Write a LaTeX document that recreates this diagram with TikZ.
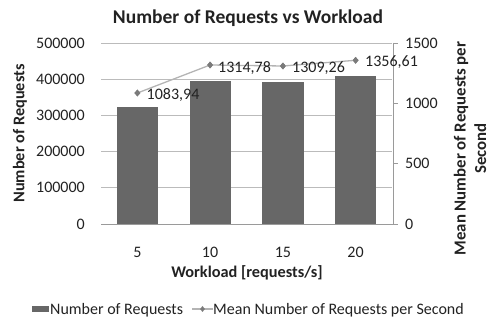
\documentclass[tikz,border=0pt]{standalone}
\usepackage{fontspec}
\setmainfont{Carlito}
\usetikzlibrary{shapes.geometric}
\definecolor{barc}{HTML}{676767}
\definecolor{gridc}{HTML}{BBBBBB}
\definecolor{axc}{HTML}{9A9A9A}
\definecolor{linec}{HTML}{B4B4B4}
\definecolor{mkc}{HTML}{7A7A7A}
\definecolor{txc}{HTML}{222222}
\begin{document}
\begin{tikzpicture}[x=1pt,y=-1pt,
  lbl/.style={font=\fontsize{16}{19}\selectfont, text=txc, inner sep=0pt},
  ttl/.style={font=\fontsize{16.3}{19}\selectfont\bfseries, text=txc, inner sep=0pt},
  grid line/.style={draw=gridc, line width=0.9pt},
  bar/.style={fill=barc},
  dmk/.style={diamond, fill=mkc, inner sep=0pt, minimum width=6pt, minimum height=7pt},
  dl/.style={lbl, anchor=west}
]
\useasboundingbox (0,0) rectangle (489,323);
% gridlines
\foreach \y in {43,79.2,115.4,151.6,187.8}
  \draw[grid line] (101,\y) -- (392,\y);
% bars
\fill[bar] (116.5,106.7) rectangle (157.7,224);
\fill[bar] (189.5,81) rectangle (230.7,224);
\fill[bar] (262.3,82) rectangle (303.5,224);
\fill[bar] (335,76.3) rectangle (376.2,224);
% axes
\draw[axc, line width=0.9pt] (101,224) -- (393,224);
\draw[axc, line width=0.9pt] (393,43) -- (393,224);
\foreach \y in {43,103.3,163.7,224}
  \draw[axc, line width=0.9pt] (393,\y) -- (398,\y);
% left tick labels
\foreach \v/\y in {500000/43,400000/79.2,300000/115.4,200000/151.6,100000/187.8,0/224}
  \node[lbl, anchor=east] at (85,\y) {\v};
% right tick labels
\foreach \v/\y in {1500/43,1000/103.3,500/163.7,0/224}
  \node[lbl, anchor=west] at (405,\y) {\v};
% category labels
\foreach \v/\x in {5/137.4,10/210.1,15/282.9,20/355.6}
  \node[lbl] at (\x,252) {\v};
% line series
\node[dmk] (p1) at (137.4,93) {};
\node[dmk] (p2) at (210.1,65) {};
\node[dmk] (p3) at (282.9,66) {};
\node[dmk] (p4) at (355.6,60.3) {};
\draw[linec, line width=1.3pt] (p1.center) -- (p2.center) -- (p3.center) -- (p4.center);
\foreach \p in {p1,p2,p3,p4} \node[dmk] at (\p) {};
\node[dl] (l1) at (146.5,95.5) {1083,94};
\node[dl] (l2) at (218,68) {1314,78};
\node[dl] (l3) at (292,68) {1309,26};
\node[dl] (l4) at (365,62) {1356,61};
% titles
\node[ttl, font=\fontsize{19.5}{22}\selectfont\bfseries] (title) at (248,18) {Number of Requests vs Workload};
\node[ttl, rotate=90] (ylab) at (20,133.5) {Number of Requests};
\node[ttl, rotate=90, align=center, font=\fontsize{16.8}{20.5}\selectfont\bfseries] (y2lab) at (470,148.5) {Mean Number of Requests per\\Second};
\node[ttl] (xlab) at (247,273) {Workload [requests/s]};
% legend
\fill[bar] (32,305.7) rectangle (49,311.7);
\node[lbl, anchor=west] (leg1) at (50,310) {Number of Requests};
\coordinate (s1) at (192,309);
\coordinate (s2) at (213,309);
\draw[linec, line width=1.3pt] (s1) -- (s2);
\node[dmk, minimum width=5pt, minimum height=6pt] (legm) at (202.5,309) {};
\node[lbl, anchor=west] (leg2) at (213,310) {Mean Number of Requests per Second};
\end{tikzpicture}
\end{document}
